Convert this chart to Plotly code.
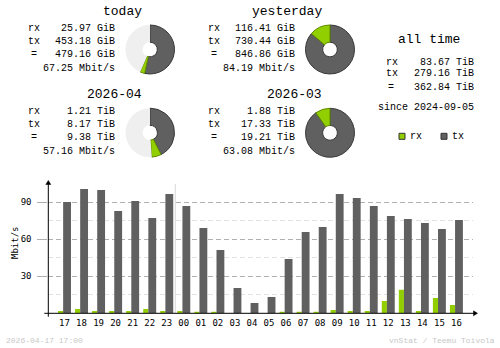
import plotly.graph_objects as go

W, H = 500, 348

# ---------------- data ----------------
hours = ["17", "18", "19", "20", "21", "22", "23", "00", "01", "02", "03", "04",
         "05", "06", "07", "08", "09", "10", "11", "12", "13", "14", "15", "16"]
rx_mbit = [1.8, 3.5, 1.8, 1.8, 1.8, 3.5, 1.8, 1.8, 1.0, 1.0, 0.0, 0.0,
           0.0, 1.0, 1.0, 1.0, 2.7, 1.8, 1.8, 10.0, 19.0, 1.8, 12.4, 6.8]
tx_mbit = [90.2, 100.8, 100.0, 83.0, 91.0, 77.3, 96.7, 87.0, 69.2, 51.3, 20.5, 8.4,
           13.2, 44.0, 65.9, 70.0, 96.7, 93.5, 87.0, 78.9, 76.5, 73.2, 68.4, 75.7]
y_ticks = [30, 60, 90]
y_minor = [15, 45, 75]

periods = ["today", "yesterday", "2026-04", "2026-03"]
rx_text = ["25.97 GiB", "116.41 GiB", "1.21 TiB", "1.88 TiB"]
tx_text = ["453.18 GiB", "730.44 GiB", "8.17 TiB", "17.33 TiB"]
tot_text = ["479.16 GiB", "846.86 GiB", "9.38 TiB", "19.21 TiB"]
rate_text = ["67.25 Mbit/s", "84.19 Mbit/s", "57.16 Mbit/s", "63.08 Mbit/s"]
pie_rx = [25.97, 116.41, 1.21, 1.88]
pie_tx = [453.18, 730.44, 8.17, 17.33]
pie_rest = [367.70, 0.0, 9.83, 0.0]

alltime_rx = "83.67 TiB"
alltime_tx = "279.16 TiB"
alltime_tot = "362.84 TiB"
since_text = "since 2024-09-05"
stamp_text = "2026-04-17 17:00"
credit_text = "vnStat / Teemu Toivola"

# ---------------- style ----------------
RX = "#92CF00"
TX = "#606060"
REST = "#EFEFEF"
MONO = "Liberation Mono"


def px(x):
    return x / W


def py(y):
    return 1 - y / H


fig = go.Figure()

# ---------------- pies ----------------
pie_pos = [(150, 49.5), (330, 49.5), (150, 132.7), (330, 132.8)]
R = 24.5
for i, (cx, cy) in enumerate(pie_pos):
    fig.add_trace(go.Pie(
        values=[pie_tx[i], pie_rx[i], pie_rest[i]],
        labels=["tx", "rx", "rest"],
        marker=dict(colors=[TX, RX, REST],
                    line=dict(color=["#383838", "#5E8A00", REST], width=[1, 1, 0])),
        hole=0.3, sort=False, direction="clockwise", rotation=0,
        textinfo="none", hoverinfo="skip", showlegend=False,
        domain=dict(x=[px(cx - R), px(cx + R)], y=[py(cy + R), py(cy - R)]),
    ))

# ---------------- bars ----------------
fig.add_trace(go.Bar(x=hours, y=rx_mbit, marker=dict(color=RX, line=dict(width=0)),
                     offset=-0.38, width=0.30, showlegend=False, hoverinfo="skip"))
fig.add_trace(go.Bar(x=hours, y=tx_mbit, marker=dict(color=TX, line=dict(width=0)),
                     offset=-0.08, width=0.46, showlegend=False, hoverinfo="skip"))

# axis geometry (pixels)
X0, X1 = 48.3, 472.7
Y0 = 313.3
UNIT = 37 / 30.0
YMAX = 105
YTOP = Y0 - YMAX * UNIT
SLOT0, SLOT = 64.5, 17.04

fig.update_layout(
    width=W, height=H, margin=dict(l=0, r=0, t=0, b=0),
    paper_bgcolor="white", plot_bgcolor="white",
    barmode="overlay",
    xaxis=dict(domain=[px(X0), px(X1)], range=[(X0 - SLOT0) / SLOT, (X1 - SLOT0) / SLOT],
               type="category", showgrid=False, zeroline=False, showline=False,
               ticks="outside", ticklen=1, tickcolor="rgba(0,0,0,0)",
               tickfont=dict(family="DejaVu Sans Mono", size=9, color="#000")),
    yaxis=dict(domain=[py(Y0), py(YTOP)], range=[0, YMAX],
               tickvals=y_ticks, showgrid=True, gridcolor="#B0B0B0", griddash="5px,3px",
               zeroline=False, showline=False,
               ticks="outside", ticklen=10, tickcolor="#B0B0B0",
               ticklabelstandoff=4,
               tickfont=dict(family="DejaVu Sans Mono", size=9, color="#000"),
               minor=dict(tickvals=y_minor, showgrid=True, gridcolor="#E2E2E2",
                          griddash="5px,3px", ticks="")),
)

shapes = []
# divider between days
div_x = hours.index("00") - 0.5
shapes.append(dict(type="line", xref="x", yref="y", x0=div_x, x1=div_x, y0=0, y1=104.8,
                   line=dict(color="#D8D8D8", width=1), layer="below"))
# axis lines
shapes.append(dict(type="line", xref="paper", yref="paper", x0=px(44.3), x1=px(474),
                   y0=py(Y0), y1=py(Y0), line=dict(color="#000", width=1)))
shapes.append(dict(type="line", xref="paper", yref="paper", x0=px(X0), x1=px(X0),
                   y0=py(316.7), y1=py(184), line=dict(color="#000", width=1)))
# arrow heads
shapes.append(dict(type="path", xref="paper", yref="paper",
                   path=f"M {px(477.5)} {py(Y0)} L {px(473.5)} {py(Y0-2.5)} L {px(473.5)} {py(Y0+2.5)} Z",
                   fillcolor="#000", line=dict(color="#000", width=0.5)))
shapes.append(dict(type="path", xref="paper", yref="paper",
                   path=f"M {px(X0)} {py(180.5)} L {px(X0-2.5)} {py(184.5)} L {px(X0+2.5)} {py(184.5)} Z",
                   fillcolor="#000", line=dict(color="#000", width=0.5)))
# legend squares
shapes.append(dict(type="rect", xref="paper", yref="paper", x0=px(399), x1=px(405),
                   y0=py(139.3), y1=py(133.3), fillcolor=RX, line=dict(color="#333", width=1)))
shapes.append(dict(type="rect", xref="paper", yref="paper", x0=px(441), x1=px(447),
                   y0=py(139.3), y1=py(133.3), fillcolor=TX, line=dict(color="#333", width=1)))
fig.update_layout(shapes=shapes)

ann = []


def text(x, y, s, anchor="left", size=10, color="#000", angle=0, family=MONO):
    ann.append(dict(x=px(x), y=py(y), xref="paper", yref="paper", text=s,
                    showarrow=False, xanchor=anchor, yanchor="middle", textangle=angle,
                    font=dict(family=family, size=size, color=color), borderpad=0))


offsets = [(0, 0), (180, 0), (0, 83), (180, 83)]
for i, (dx, dy) in enumerate(offsets):
    text(142.5 + dx, 12 + dy, periods[i], "right", 13)
    text(26.5 + dx, 28.8 + dy, "rx")
    text(26.5 + dx, 41.7 + dy, "tx")
    text(34.2 + dx, 54.7 + dy, "=", "center")
    text(115.5 + dx, 28.8 + dy, rx_text[i], "right")
    text(115.5 + dx, 41.7 + dy, tx_text[i], "right")
    text(115.5 + dx, 54.7 + dy, tot_text[i], "right")
    text(115.5 + dx, 68.8 + dy, rate_text[i], "right")

text(429, 40, "all time", "center", 13)
text(385, 62.2, "rx")
text(385, 73.5, "tx")
text(390.5, 87, "=", "center")
text(474.5, 62.2, alltime_rx, "right")
text(474.5, 73.5, alltime_tx, "right")
text(474.5, 87, alltime_tot, "right")
text(426, 107.7, since_text, "center")
text(409, 136.3, "rx")
text(450.5, 136.3, "tx")

text(15, 243, "Mbit/s", "center", 9, angle=-90, family="DejaVu Sans Mono")
text(5, 340, stamp_text, "left", 8, "#C8C8C8")
text(495.5, 340, credit_text, "right", 8, "#C8C8C8")

fig.update_layout(annotations=ann)

fig.write_html("out.html")
